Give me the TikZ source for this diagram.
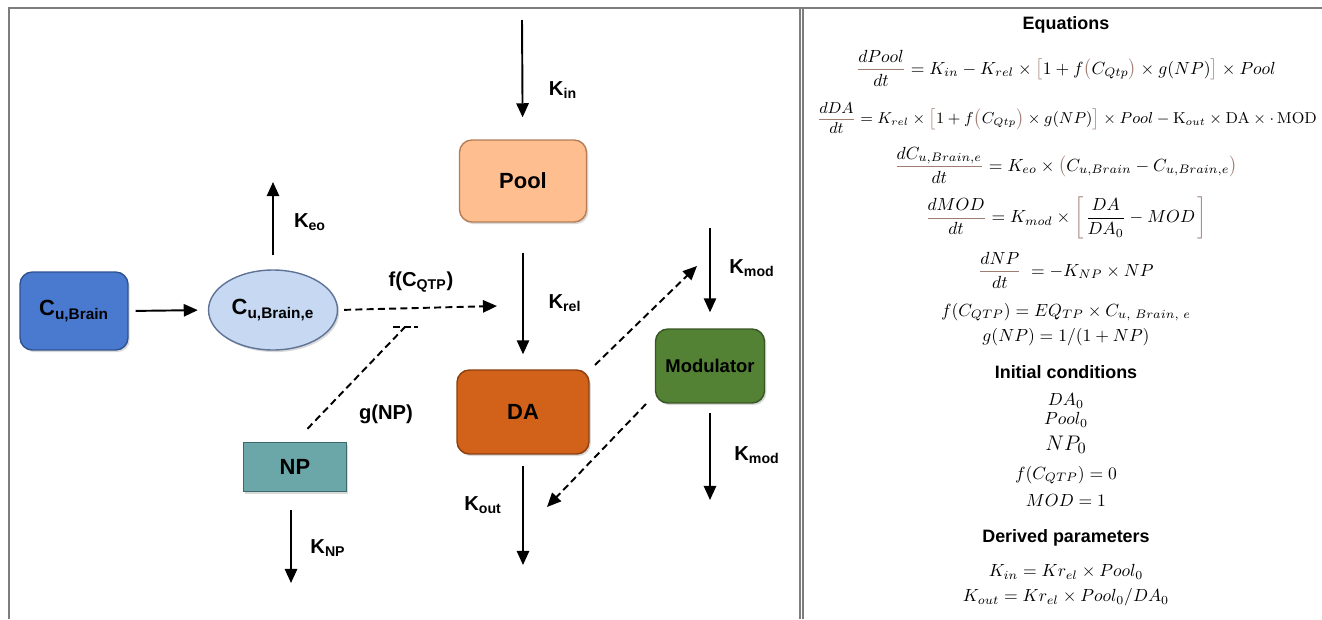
\documentclass[tikz,border=0pt]{standalone}
\usepackage[no-math]{fontspec}
\setmainfont{Liberation Sans}
\usetikzlibrary{shapes}
\usetikzlibrary{positioning}
\usetikzlibrary{arrows.meta}
\usetikzlibrary{shadows}
\definecolor{framegray}{RGB}{125,125,125}
\definecolor{brk}{RGB}{160,125,115}
\definecolor{cubfill}{RGB}{74,122,208}
\definecolor{cubdraw}{RGB}{47,82,143}
\definecolor{cuefill}{RGB}{198,216,242}
\definecolor{cuedraw}{RGB}{95,115,150}
\definecolor{npfill}{RGB}{107,166,168}
\definecolor{npdraw}{RGB}{60,105,105}
\definecolor{poolfill}{RGB}{255,190,143}
\definecolor{pooldraw}{RGB}{180,125,85}
\definecolor{dafill}{RGB}{210,98,26}
\definecolor{dadraw}{RGB}{140,62,12}
\definecolor{modfill}{RGB}{84,130,53}
\definecolor{moddraw}{RGB}{55,86,35}
\tikzset{
    comp/.style = {rectangle, rounded corners=7pt, thick, align=center, font=\bfseries\fontsize{12.5}{14}\selectfont,
                   drop shadow={opacity=0.3,shadow xshift=1pt,shadow yshift=-1.2pt}},
    compc/.style = {comp, ellipse},
    compr/.style = {comp, sharp corners},
    edgen/.style = {-{Triangle[length=8pt,width=7pt]}, line width=1.1pt},
    edged/.style = {edgen, dash pattern=on 4pt off 2.4pt}, % influence
    lined/.style = {line width=1.1pt, dash pattern=on 4pt off 2.4pt},
    klab/.style = {font=\bfseries\fontsize{11.5}{13}\selectfont},
    eqn/.style = {font=\fontsize{9.6}{11.5}\selectfont},
    head/.style = {font=\bfseries\fontsize{10.2}{12}\selectfont},
    panel/.style = {draw=framegray, line width=0.9pt}
}
\begin{document}
\begin{tikzpicture}[x=0.02cm, y=-0.02cm]
  \useasboundingbox (0,0) rectangle (1322,619);
  \draw[panel] (9,619) -- (9,8) -- (1322,8);
  \draw[panel] (800,8) -- (800,619);
  \draw[panel] (803,8) -- (803,619);

  \node[comp, fill=cubfill, draw=cubdraw, minimum width=2.16cm, minimum height=1.56cm] (cub) at (74,311) {C\textsubscript{u,Brain}};
  \node[compc, fill=cuefill, draw=cuedraw, minimum width=2.58cm, minimum height=1.6cm, inner sep=0pt] (cue) at (273,310) {C\textsubscript{u,Brain,e}};
  \node[compr, fill=npfill, draw=npdraw, minimum width=2.06cm, minimum height=0.98cm] (np) at (295,467) {NP};
  \node[comp, fill=poolfill, draw=pooldraw, minimum width=2.54cm, minimum height=1.64cm] (pool) at (523,181) {Pool};
  \node[comp, fill=dafill, draw=dadraw, minimum width=2.64cm, minimum height=1.68cm] (da) at (523,412) {DA};
  \node[comp, fill=modfill, draw=moddraw, minimum width=2.18cm, minimum height=1.48cm, font=\bfseries\fontsize{10.5}{12}\selectfont] (mod) at (710,366) {Modulator};

  \coordinate (kin0) at (522,20);
  \coordinate (keo1) at (273,182);
  \coordinate (np1) at (291,583);
  \coordinate (kout1) at (523,565);
  \coordinate (fq1) at (497,306);
  \coordinate (gtip) at (405,327);
  \coordinate (gbarl) at (393,327);
  \coordinate (gbarr) at (418,327);
  \coordinate (modin0) at (710,228);
  \coordinate (modout1) at (710,500);
  \coordinate (dafb0) at (595,365);
  \coordinate (dafb1) at (697,266);
  \coordinate (modfb0) at (646,404);
  \coordinate (modfb1) at (547,507);

  \draw[edgen, shorten >=0.44cm] (kin0) -- (pool);
  \draw[edgen, shorten <=0.6cm, shorten >=0.3cm] (pool.south) -- (da.north);
  \draw[edgen, shorten <=0.22cm] (da.south) -- (kout1);
  \draw[edgen, shorten <=0.14cm, shorten >=0.2cm] (cub.east) -- (cue.west);
  \draw[edgen, shorten <=0.28cm] (cue.north) -- (keo1);
  \draw[edgen, shorten <=0.36cm] (np.south -| np1) -- (np1);
  \draw[edgen, shorten >=0.32cm] (modin0) -- (mod.north);
  \draw[edgen, shorten <=0.18cm] (mod.south) -- (modout1);
  \draw[edged, shorten <=0.12cm] (cue.east) -- (fq1);
  \draw[lined, shorten <=0.36cm] (np.north) -- (gtip);
  \draw[lined, dash pattern=on 4pt off 2pt] (gbarl) -- (gbarr);
  \draw[edged] (dafb0) -- (dafb1);
  \draw[edged] (modfb0) -- (modfb1);

  \node[klab] (kinl) at (563,90) {K\textsubscript{in}};
  \node[klab] (krell) at (565,303) {K\textsubscript{rel}};
  \node[klab] (koutl) at (483,505) {K\textsubscript{out}};
  \node[klab] (keol) at (310,222) {K\textsubscript{eo}};
  \node[klab] (knpl) at (328,548) {K\textsubscript{NP}};
  \node[klab] (kmodl1) at (752,268) {K\textsubscript{mod}};
  \node[klab] (kmodl2) at (757,455) {K\textsubscript{mod}};
  \node[klab] (fql) at (421,282) {f(C\textsubscript{QTP})};
  \node[klab] (gnpl) at (386,414) {g(NP)};

  \node[head] (eqh) at (1066,25) {Equations};
  \node[eqn] (eq1) at (1066,68) {$\displaystyle{\color{brk}\frac{\color{black}dPool}{\color{black}dt}} = K_{in}-K_{rel}\times\textcolor{brk}{\bigl[}1+f\textcolor{brk}{\bigl(}C_{Qtp}\textcolor{brk}{\bigr)}\times g(NP)\textcolor{brk}{\bigr]}\times Pool$};
  \node[eqn, font=\fontsize{8.9}{11}\selectfont] (eq2) at (1067,118) {$\displaystyle{\color{brk}\frac{\color{black}dDA}{\color{black}dt}} = K_{rel}\times\textcolor{brk}{\bigl[}1+f\textcolor{brk}{\bigl(}C_{Qtp}\textcolor{brk}{\bigr)}\times g(NP)\textcolor{brk}{\bigr]}\times Pool-\mathrm{K}_{out}\times\mathrm{DA}\times\cdot\,\mathrm{MOD}$};
  \node[eqn] (eq3) at (1066,165) {$\displaystyle{\color{brk}\frac{\color{black}dC_{u,Brain,e}}{\color{black}dt}} = K_{eo}\times\textcolor{brk}{\bigl(}C_{u,Brain}-C_{u,Brain,e}\textcolor{brk}{\bigr)}$};
  \node[eqn] (eq4) at (1066,218) {$\displaystyle{\color{brk}\frac{\color{black}dMOD}{\color{black}dt}} = K_{mod}\times{\color{brk}\left[\vphantom{\frac{DA}{DA_0}}\right.}\frac{DA}{DA_0}-MOD{\color{brk}\left.\vphantom{\frac{DA}{DA_0}}\right]}$};
  \node[eqn] (eq5) at (1066,270) {$\displaystyle{\color{brk}\frac{\color{black}dNP}{\color{black}dt}}\;=-K_{NP}\times NP$};
  \node[eqn] (eq6) at (1066,312) {$f(C_{QTP})=EQ_{TP}\times C_{u,\ Brain,\ e}$};
  \node[eqn] (eq7) at (1066,337) {$g(NP)=1/(1+NP)$};

  \node[head] (ich) at (1066,372) {Initial conditions};
  \node[eqn] (ic1) at (1066,401) {$DA_0$};
  \node[eqn] (ic2) at (1066,420) {$Pool_0$};
  \node[eqn, font=\fontsize{12.5}{15}\selectfont] (ic3) at (1066,445) {$NP_0$};
  \node[eqn] (ic4) at (1066,475) {$f(C_{QTP})=0$};
  \node[eqn] (ic5) at (1066,500) {$MOD=1$};

  \node[head] (dph) at (1066,538) {Derived parameters};
  \node[eqn] (dp1) at (1066,572) {$K_{in}=Kr_{el}\times Pool_0$};
  \node[eqn] (dp2) at (1066,597) {$K_{out}=Kr_{el}\times Pool_0/DA_0$};
\end{tikzpicture}
\end{document}
